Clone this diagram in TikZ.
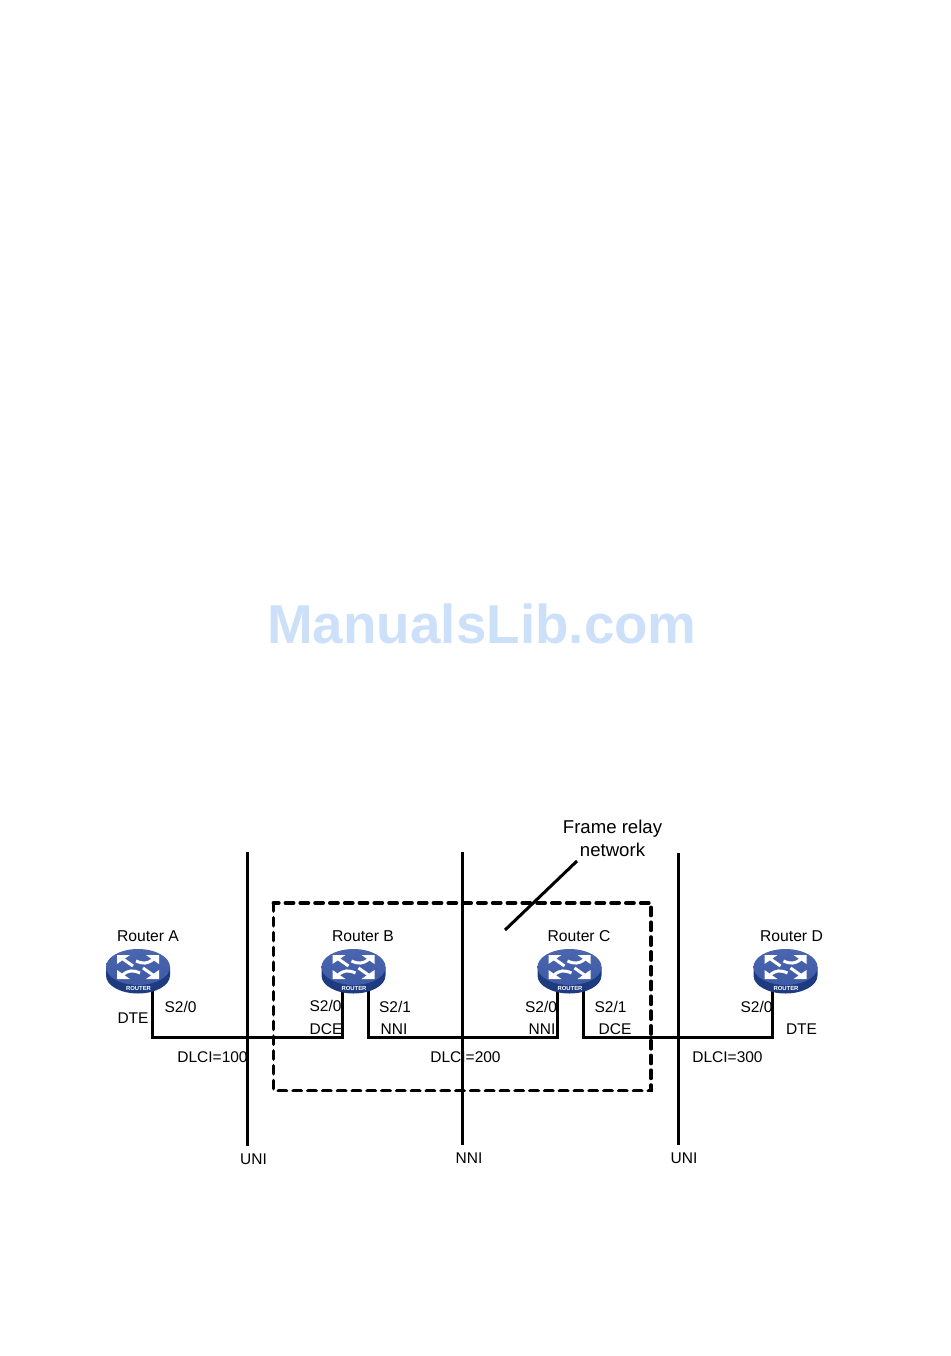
\documentclass[tikz,border=0pt]{standalone}
\usepackage{fontspec}
\setmainfont{Liberation Sans}
\usetikzlibrary{arrows.meta,positioning,shapes.geometric}
\definecolor{routertop}{HTML}{4A66AE}
\definecolor{routerlow}{HTML}{3F5AA6}
\definecolor{routerside}{HTML}{1F3B80}
\definecolor{marklogo}{HTML}{CDE0FA}
\tikzset{
  rtrbody/.style={ellipse, draw=none, top color=routertop, bottom color=routerlow, minimum width=64pt, minimum height=36pt, inner sep=0pt},
  rtrshaft/.style={draw=white, line width=3pt},
  rtrhead/.style={fill=white},
  rtrname/.style={font=\fontsize{15.7}{18}\selectfont, inner sep=0pt},
  portlabel/.style={font=\fontsize{15.5}{18}\selectfont, inner sep=0pt},
  framelabel/.style={font=\fontsize{18.6}{23.4}\selectfont, align=center, inner sep=0pt},
  wire/.style={black, line width=3pt, line join=miter},
  borderline/.style={black, line width=3pt},
  cloudline/.style={black, line width=3.8pt, line cap=round, dash pattern=on 8pt off 6.8pt}
}
% one router: rim, body, switching arrows, caption
\newcommand{\routericon}[2]{
  \begin{scope}[shift={(#1)}]
    \fill[routerside] (-32,-4) -- (-32,4.5) arc[start angle=180, end angle=360, x radius=32pt, y radius=18pt] -- (32,-4) -- cycle;
    \node[rtrbody] (#2) at (0,-4) {};
    \begin{scope}[yshift=4pt]
      \fill[rtrhead] (-21,-12) -- (-8,-12) -- (-21,-3) -- cycle;
      \fill[rtrhead] (21,12) -- (8,12) -- (21,3) -- cycle;
      \fill[rtrhead] (21,-12) -- (8,-12) -- (21,-3) -- cycle;
      \fill[rtrhead] (-21,12) -- (-8,12) -- (-21,3) -- cycle;
      \draw[rtrshaft] (-15,-8) -- (-5,-1);
      \draw[rtrshaft] (15,8) -- (5,1);
      \draw[rtrshaft] (15,-7.5) .. controls (9,-3) and (5,-3) .. (-2,-6);
      \draw[rtrshaft] (-15,7.5) .. controls (-9,3) and (-5,3) .. (2,6);
    \end{scope}
    \node[font=\bfseries\fontsize{5.9}{6}\selectfont, text=white, inner sep=0pt] at (0.5,17) {ROUTER};
  \end{scope}
}
\begin{document}
\begin{tikzpicture}[x=1pt,y=-1pt]
  \useasboundingbox (0,0) rectangle (950,1356);
  \node[font=\bfseries\fontsize{54.8}{60}\selectfont, text=marklogo, inner sep=0pt] (logo) at (482,624) {ManualsLib.com};
  % routers
  \coordinate (ra) at (138,971);
  \coordinate (rb) at (353.5,971);
  \coordinate (rc) at (569.5,971);
  \coordinate (rd) at (785.5,971);
  % free ends of the wires
  \coordinate (ja) at (152.5,1037);
  \coordinate (jb1) at (342,1037);
  \coordinate (jb2) at (368,1037);
  \coordinate (jc1) at (557,1037);
  \coordinate (jc2) at (583,1037);
  \coordinate (jd) at (772.5,1037);
  \coordinate (uni1t) at (247.5,852);
  \coordinate (uni1b) at (247.5,1146);
  \coordinate (nnit) at (462.5,852);
  \coordinate (nnib) at (462.5,1145);
  \coordinate (uni2t) at (678,853);
  \coordinate (uni2b) at (678,1145);
  \coordinate (fra) at (273.5,903);
  \coordinate (frb) at (651,1090.5);
  \coordinate (pta) at (577,861);
  \coordinate (ptb) at (505,930);
  \draw[wire] (ja |- ra) -- (ja) -- (jb1) -- (jb1 |- rb);
  \draw[wire] (jb2 |- rb) -- (jb2) -- (jc1) -- (jc1 |- rc);
  \draw[wire] (jc2 |- rc) -- (jc2) -- (jd) -- (jd |- rd);
  \draw[borderline] (uni1t) -- (uni1b);
  \draw[borderline] (nnit) -- (nnib);
  \draw[borderline] (uni2t) -- (uni2b);
  \draw[cloudline] (fra) rectangle (frb);
  \draw[black, line width=3pt] (pta) -- (ptb);
  \routericon{ra}{ra body}
  \routericon{rb}{rb body}
  \routericon{rc}{rc body}
  \routericon{rd}{rd body}
  \node[rtrname] (namea) at (148,936) {Router A};
  \node[rtrname] (nameb) at (363,936) {Router B};
  \node[rtrname] (namec) at (579,936) {Router C};
  \node[rtrname] (named) at (791.5,936) {Router D};
  \node[framelabel] (frlabel) at (612.5,838.5) {Frame relay\\network};
  \node[portlabel] (pa) at (180.5,1007) {S2/0};
  \node[portlabel] (ma) at (133,1018) {DTE};
  \node[portlabel] (pb1) at (325.5,1006) {S2/0};
  \node[portlabel] (mb1) at (326,1029) {DCE};
  \node[portlabel] (pb2) at (395,1007) {S2/1};
  \node[portlabel] (mb2) at (394,1029) {NNI};
  \node[portlabel] (pc1) at (541,1007) {S2/0};
  \node[portlabel] (mc1) at (542,1029) {NNI};
  \node[portlabel] (pc2) at (610.5,1007) {S2/1};
  \node[portlabel] (mc2) at (615,1029) {DCE};
  \node[portlabel] (pd) at (756.5,1007) {S2/0};
  \node[portlabel] (md) at (801.5,1029) {DTE};
  \node[portlabel] (dlcia) at (212.5,1057) {DLCI=100};
  \node[portlabel] (dlcib) at (465.5,1057) {DLCI=200};
  \node[portlabel] (dlcic) at (727.5,1057) {DLCI=300};
  \node[portlabel] (unia) at (253.5,1159) {UNI};
  \node[portlabel] (nnic) at (469,1158) {NNI};
  \node[portlabel] (unib) at (684,1158) {UNI};
\end{tikzpicture}
\end{document}
